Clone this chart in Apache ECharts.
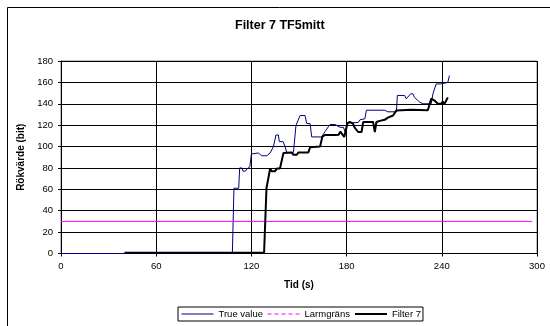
<!DOCTYPE html>
<html><head><meta charset="utf-8">
<script src="https://cdn.jsdelivr.net/npm/echarts@6/dist/echarts.min.js"></script>
<style>html,body{margin:0;padding:0;background:#fff}#c{width:550px;height:326px}</style>
</head><body><div id="c"></div>
<script>
const xTicks = [0, 60, 120, 180, 240, 300];
const yTicks = [0, 20, 40, 60, 80, 100, 120, 140, 160, 180];

const trueTime = [0, 108, 109, 112, 112.6, 114, 114.7, 116.2, 117.5, 119, 120, 120.2, 124.4, 126.5, 129.7, 131.8, 133.9, 134.9, 135.5, 137, 137.6, 140, 141.2, 142.3, 146.5, 147.5, 148.1, 150.7, 153.8, 154.9, 157, 158, 164.3, 165.3, 166.4, 167.4, 168.5, 169.6, 172.7, 173.8, 175.9, 178, 179, 180.6, 187.3, 188.4, 191.5, 192.5, 204, 206, 211.4, 212, 216.6, 217.6, 220.4, 221.8, 222.8, 224, 226, 228.1, 233.3, 234.4, 235.5, 236.5, 239.6, 240.6, 243.8, 244.8];
const trueValue = [0, 0, 61, 61, 80, 80, 77, 77, 79.5, 81, 93, 94, 94, 91.4, 91.4, 94, 100, 100.5, 110.8, 110.8, 104.6, 104.6, 100, 94.5, 94.5, 95.5, 120, 129, 129, 121.5, 121.5, 109, 109, 110.5, 114, 114, 118.5, 120.6, 120.6, 119, 118, 118, 114, 122, 122.5, 125, 126, 134, 134, 132.5, 132.5, 147.8, 147.8, 144.7, 149.3, 149.3, 146, 146.5, 141.6, 140, 140, 149.3, 151, 158.6, 158.6, 160, 160, 166.4];

const alarmTime = [0, 297];
const alarmValue = [30, 30];

const filterTime = [40, 128, 129.5, 130.7, 131.8, 132.8, 134.9, 136, 138, 138.6, 140.2, 145.4, 146.5, 148.6, 149.6, 155.9, 157, 163.3, 164.7, 166.4, 172.7, 175, 176, 177, 178.5, 179.6, 180.6, 182, 184, 185, 187.3, 189.4, 190.5, 196.7, 197.8, 198.8, 200.9, 204, 206, 209.3, 211.4, 220.8, 231.2, 233.3, 235.4, 237.5, 239.6, 240.6, 241.7, 243.8];
const filterValue = [0.7, 0.7, 61, 61, 79.4, 77, 77, 79.4, 79.4, 81, 94, 94.5, 92.3, 92.3, 94.5, 94.5, 99.4, 100, 109.2, 110.8, 110.8, 111, 114, 114, 109, 109, 122, 123, 121.5, 118, 113.6, 113.6, 123, 123, 113.6, 123, 124, 125, 127, 129, 133.8, 134.4, 134, 144.7, 143, 140, 140, 142, 140, 146];

const seriesNames = ['True value', 'Larmgräns', 'Filter 7'];

const zip = (a, b) => a.map((t, i) => [t, b[i]]);
const font = "'Liberation Sans', Arial, sans-serif";
const hidden = {opacity: 0, borderWidth: 0};

const chart = echarts.init(document.getElementById('c'), null, {renderer: 'canvas'});
chart.setOption({
  animation: false,
  backgroundColor: '#fff',
  title: {
    text: 'Filter 7 TF5mitt',
    left: 235, top: 19, padding: 0,
    textStyle: {fontFamily: font, fontSize: 12.5, fontWeight: 'bold', color: '#000'}
  },
  graphic: [{
    type: 'rect', shape: {x: 7.5, y: 7.5, width: 600, height: 400},
    style: {fill: 'none', stroke: '#000', lineWidth: 1}, silent: true
  }],
  legend: {
    left: 178, top: 307,
    orient: 'horizontal',
    borderColor: '#000', borderWidth: 1,
    padding: [2, 2, 2, 3],
    itemGap: 4, itemWidth: 32, itemHeight: 8,
    itemStyle: hidden,
    textStyle: {fontFamily: font, fontSize: 9.5, color: '#000'},
    data: [
      {name: seriesNames[0], itemStyle: hidden, lineStyle: {color: '#000080', width: 1, type: 'solid'}},
      {name: seriesNames[1], itemStyle: hidden, lineStyle: {color: '#ff00ff', width: 1, type: [4, 3]}},
      {name: seriesNames[2], itemStyle: hidden, lineStyle: {color: '#000', width: 2, type: 'solid'}}
    ]
  },
  grid: {left: 61, right: 13, top: 61, bottom: 72.5, show: true, borderColor: '#808080', borderWidth: 1, containLabel: false},
  xAxis: {
    type: 'value', min: xTicks[0], max: xTicks[xTicks.length - 1], interval: 60,
    name: 'Tid (s)', nameLocation: 'middle', nameGap: 27,
    nameTextStyle: {fontFamily: font, fontSize: 10, fontWeight: 'bold', color: '#000'},
    axisLine: {show: true, lineStyle: {color: '#000', width: 1}},
    axisTick: {show: true, length: 3, lineStyle: {color: '#000'}},
    axisLabel: {margin: 8, fontFamily: font, fontSize: 9.5, color: '#000'},
    splitLine: {show: true, lineStyle: {color: '#000', width: 1}}
  },
  yAxis: {
    type: 'value', min: yTicks[0], max: yTicks[yTicks.length - 1], interval: 20,
    name: 'Rökvärde (bit)', nameLocation: 'middle', nameGap: 30, nameRotate: 90,
    nameTextStyle: {fontFamily: font, fontSize: 10, fontWeight: 'bold', color: '#000'},
    axisLine: {show: true, lineStyle: {color: '#000', width: 1}},
    axisTick: {show: true, length: 3, lineStyle: {color: '#000'}},
    axisLabel: {margin: 8, fontFamily: font, fontSize: 9.5, color: '#000'},
    splitLine: {show: true, lineStyle: {color: '#000', width: 1}}
  },
  series: [
    {name: seriesNames[0], type: 'line', symbol: 'none', data: zip(trueTime, trueValue),
     lineStyle: {color: '#000080', width: 1}, itemStyle: {color: '#000080'}},
    {name: seriesNames[1], type: 'line', symbol: 'none', data: zip(alarmTime, alarmValue),
     lineStyle: {color: '#ff00ff', width: 1}, itemStyle: {color: '#ff00ff'}},
    {name: seriesNames[2], type: 'line', symbol: 'none', data: zip(filterTime, filterValue),
     lineStyle: {color: '#000', width: 2}, itemStyle: {color: '#000'}}
  ]
});
</script></body></html>
